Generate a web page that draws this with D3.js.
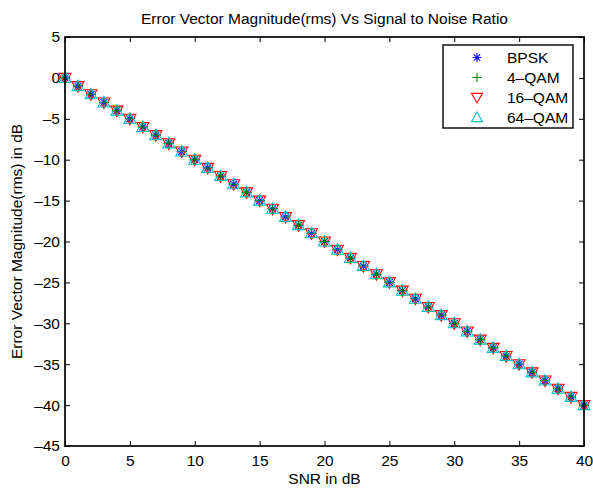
<!DOCTYPE html>
<html>
<head>
<meta charset="utf-8">
<script src="https://cdn.jsdelivr.net/npm/d3@7"></script>
<style>
  html, body { margin: 0; padding: 0; background: #fff; }
  svg { display: block; font-family: "Liberation Sans", Arial, Helvetica, sans-serif; }
</style>
</head>
<body>
<svg id="chart" width="593" height="488"></svg>
<script>
// SNR values (dB)
const snr = [0, 1, 2, 3, 4, 5, 6, 7, 8, 9, 10, 11, 12, 13, 14, 15, 16, 17, 18, 19, 20,
  21, 22, 23, 24, 25, 26, 27, 28, 29, 30, 31, 32, 33, 34, 35, 36, 37, 38, 39, 40];

// EVM (rms) in dB for each modulation
const evmBpsk = [0, -1, -2, -3, -4, -5, -6, -7, -8, -9, -10, -11, -12, -13, -14, -15, -16, -17, -18, -19, -20,
  -21, -22, -23, -24, -25, -26, -27, -28, -29, -30, -31, -32, -33, -34, -35, -36, -37, -38, -39, -40];
const evmQam4 = [0, -1, -2, -3, -4, -5, -6, -7, -8, -9, -10, -11, -12, -13, -14, -15, -16, -17, -18, -19, -20,
  -21, -22, -23, -24, -25, -26, -27, -28, -29, -30, -31, -32, -33, -34, -35, -36, -37, -38, -39, -40];
const evmQam16 = [0, -1, -2, -3, -4, -5, -6, -7, -8, -9, -10, -11, -12, -13, -14, -15, -16, -17, -18, -19, -20,
  -21, -22, -23, -24, -25, -26, -27, -28, -29, -30, -31, -32, -33, -34, -35, -36, -37, -38, -39, -40];
const evmQam64 = [0, -1, -2, -3, -4, -5, -6, -7, -8, -9, -10, -11, -12, -13, -14, -15, -16, -17, -18, -19, -20,
  -21, -22, -23, -24, -25, -26, -27, -28, -29, -30, -31, -32, -33, -34, -35, -36, -37, -38, -39, -40];

const xTicks = [0, 5, 10, 15, 20, 25, 30, 35, 40];
const yTicks = [5, 0, -5, -10, -15, -20, -25, -30, -35, -40, -45];

const series = [
  { name: "BPSK", values: evmBpsk, marker: "star", color: "#0000ff" },
  { name: "4\u2013QAM", values: evmQam4, marker: "plus", color: "#008000" },
  { name: "16\u2013QAM", values: evmQam16, marker: "tridown", color: "#ff0000" },
  { name: "64\u2013QAM", values: evmQam64, marker: "triup", color: "#00bfbf" }
];

const svg = d3.select("#chart");
const width = 593;
const height = 488;
const margin = { top: 37, right: 9, bottom: 42, left: 65 };
const fs = 15.5;

const x = d3.scaleLinear().domain([0, 40]).range([margin.left, width - margin.right]);
const y = d3.scaleLinear().domain([-45, 5]).range([height - margin.bottom, margin.top]);

function markerPath(type, s) {
  if (type === "star") {
    const d = s * 0.7;
    return `M${-s},0L${s},0M0,${-s}L0,${s}M${-d},${-d}L${d},${d}M${-d},${d}L${d},${-d}`;
  }
  if (type === "plus") {
    return `M${-s},0L${s},0M0,${-s}L0,${s}`;
  }
  if (type === "tridown") {
    return `M${-s},${-s * 0.75}L${s},${-s * 0.75}L0,${s}Z`;
  }
  return `M${-s},${s * 0.75}L${s},${s * 0.75}L0,${-s}Z`;
}

const tickLen = 5;
svg.append("g").attr("transform", `translate(0,${height - margin.bottom})`)
  .call(d3.axisBottom(x).tickValues(xTicks).tickSizeInner(-tickLen).tickSizeOuter(0).tickPadding(9));
svg.append("g").attr("transform", `translate(${margin.left},0)`)
  .call(d3.axisLeft(y).tickValues(yTicks).tickSizeInner(-tickLen).tickSizeOuter(0).tickPadding(5)
    .tickFormat((d) => d < 0 ? "\u2013" + Math.abs(d) : String(d)));
svg.append("g").attr("transform", `translate(0,${margin.top})`)
  .call(d3.axisTop(x).tickValues(xTicks).tickSizeInner(-tickLen).tickSizeOuter(0).tickFormat(""));
svg.append("g").attr("transform", `translate(${width - margin.right},0)`)
  .call(d3.axisRight(y).tickValues(yTicks).tickSizeInner(-tickLen).tickSizeOuter(0).tickFormat(""));

svg.selectAll(".domain").remove();
svg.selectAll(".tick line").attr("stroke", "#000").attr("stroke-width", 1);
svg.selectAll(".tick text").attr("fill", "#000").attr("font-size", fs)
  .attr("font-family", "Liberation Sans, Arial, sans-serif");

// markers
for (const s of series) {
  const isTri = s.marker === "tridown" || s.marker === "triup";
  svg.append("g")
    .selectAll("path")
    .data(snr.map((v, i) => [v, s.values[i]]))
    .join("path")
    .attr("transform", (d) => `translate(${x(d[0])},${y(d[1])})`)
    .attr("d", markerPath(s.marker, isTri ? 6 : 5))
    .attr("fill", "none")
    .attr("stroke", s.color)
    .attr("stroke-width", 1.1);
}

// frame on top
svg.append("rect")
  .attr("x", margin.left)
  .attr("y", margin.top)
  .attr("width", width - margin.left - margin.right)
  .attr("height", height - margin.top - margin.bottom)
  .attr("fill", "none")
  .attr("stroke", "#000")
  .attr("stroke-width", 1.7);

// legend
const legend = svg.append("g").attr("transform", "translate(443,45)");
legend.append("rect")
  .attr("width", 130).attr("height", 83)
  .attr("fill", "#fff").attr("stroke", "#000").attr("stroke-width", 1.4);
series.forEach((s, i) => {
  const ry = 12.5 + i * 20;
  const isTri = s.marker === "tridown" || s.marker === "triup";
  legend.append("path")
    .attr("transform", `translate(34,${ry})`)
    .attr("d", markerPath(s.marker, isTri ? 5.5 : 4.5))
    .attr("fill", "none").attr("stroke", s.color).attr("stroke-width", 1.1);
  legend.append("text")
    .attr("x", 64).attr("y", ry + 5.5)
    .attr("font-size", fs).text(s.name);
});

// title and axis labels
svg.append("text")
  .attr("x", (margin.left + width - margin.right) / 2)
  .attr("y", 24)
  .attr("text-anchor", "middle")
  .attr("font-size", fs)
  .text("Error Vector Magnitude(rms) Vs Signal to Noise Ratio");

svg.append("text")
  .attr("x", (margin.left + width - margin.right) / 2)
  .attr("y", 484)
  .attr("text-anchor", "middle")
  .attr("font-size", fs)
  .text("SNR in dB");

svg.append("text")
  .attr("transform", `translate(22,${(margin.top + height - margin.bottom) / 2}) rotate(-90)`)
  .attr("text-anchor", "middle")
  .attr("font-size", fs)
  .text("Error Vector Magnitude(rms) in dB");
</script>
</body>
</html>
